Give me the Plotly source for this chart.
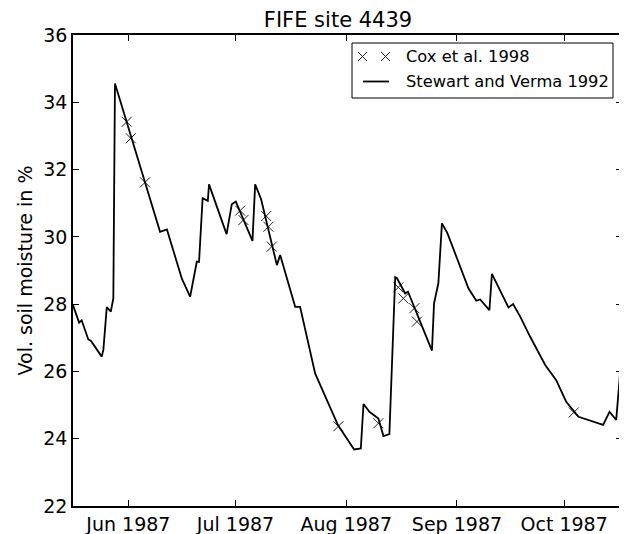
import pandas as pd
import plotly.graph_objects as go

# Stewart and Verma 1992 (continuous record)
line_dates = [
    "1987-05-16 12:00", "1987-05-18 05:00", "1987-05-18 22:00", "1987-05-20 19:00",
    "1987-05-21 12:00", "1987-05-24 13:00", "1987-05-25 00:00", "1987-05-25 23:00",
    "1987-05-27 02:00", "1987-05-27 19:00", "1987-05-28 06:00", "1987-06-09 21:00",
    "1987-06-11 19:00", "1987-06-16 00:00", "1987-06-18 07:00", "1987-06-20 04:00",
    "1987-06-20 19:00", "1987-06-21 19:00", "1987-06-23 06:00", "1987-06-23 14:00",
    "1987-06-28 12:00", "1987-06-29 23:00", "1987-07-01 02:00", "1987-07-05 18:00",
    "1987-07-06 12:00", "1987-07-08 04:00", "1987-07-12 14:00", "1987-07-13 12:00",
    "1987-07-17 17:00", "1987-07-19 02:00", "1987-07-23 07:00", "1987-07-29 17:00",
    "1987-08-03 05:00", "1987-08-05 02:00", "1987-08-05 20:00", "1987-08-07 12:00",
    "1987-08-10 00:00", "1987-08-11 10:00", "1987-08-13 02:00", "1987-08-14 17:00",
    "1987-08-15 05:00", "1987-08-17 12:00", "1987-08-18 07:00", "1987-08-25 00:00",
    "1987-08-25 14:00", "1987-08-26 19:00", "1987-08-27 19:00", "1987-08-29 07:00",
    "1987-09-04 05:00", "1987-09-06 10:00", "1987-09-07 12:00", "1987-09-10 02:00",
    "1987-09-10 19:00", "1987-09-15 10:00", "1987-09-16 17:00", "1987-09-18 17:00",
    "1987-09-21 12:00", "1987-09-25 17:00", "1987-09-28 19:00", "1987-10-01 14:00",
    "1987-10-05 01:00", "1987-10-11 22:00", "1987-10-13 17:00", "1987-10-15 14:00",
    "1987-10-16 17:00", "1987-10-17 05:00",
]
line_vals = [
    27.97, 27.45, 27.52, 26.95,
    26.91, 26.44, 26.64, 27.91,
    27.78, 28.17, 34.56, 30.15,
    30.22, 28.75, 28.22, 29.26,
    29.26, 31.15, 31.07, 31.56,
    30.08, 30.97, 31.05, 29.88,
    31.56, 31.12, 29.16, 29.46,
    27.92, 27.92, 25.94, 24.40,
    23.68, 23.71, 25.03, 24.80,
    24.60, 24.08, 24.14, 28.80,
    28.77, 28.32, 28.37, 26.62,
    28.02, 28.62, 30.40, 30.12,
    28.47, 28.10, 28.14, 27.82,
    28.90, 27.90, 28.00, 27.63,
    27.03, 26.19, 25.74, 25.10,
    24.65, 24.41, 24.80, 24.56,
    25.99, 26.30,
]

# Cox et al. 1998 (point samples)
cox_dates = [
    "1987-05-31 13:00", "1987-06-01 16:00", "1987-06-05 16:00",
    "1987-07-02 07:00", "1987-07-03 05:00", "1987-07-09 14:00",
    "1987-07-10 05:00", "1987-07-11 04:00", "1987-07-29 19:00",
    "1987-08-10 00:00", "1987-08-15 14:00", "1987-08-17 00:00",
    "1987-08-20 02:00", "1987-08-20 19:00", "1987-10-03 17:00",
]
cox_vals = [
    33.42, 32.93, 31.62,
    30.78, 30.50, 30.62,
    30.30, 29.71, 24.37,
    24.46, 28.50, 28.17,
    27.88, 27.48, 24.78,
]

x_range = ["1987-05-16 12:00", "1987-10-17 05:00"]
y_ticks = [22, 24, 26, 28, 30, 32, 34, 36]
legend_labels = ["Cox et al. 1998", "Stewart and Verma 1992"]

FONT = "DejaVu Sans"
# the page body has an 8px margin, so the figure is 8px smaller than the window
W, H = 619, 526
ML, MR, MT, MB = 65, 5, 27, 28
PW, PH = W - ML - MR, H - MT - MB


def px(x):
    # figure pixel (from plot left) -> paper x
    return x / PW


def py(y):
    # figure pixel (from plot top) -> paper y
    return 1 - y / PH


fig = go.Figure()
fig.add_trace(go.Scatter(
    x=pd.to_datetime(cox_dates), y=cox_vals,
    mode="markers", name=legend_labels[0], showlegend=False,
    marker=dict(symbol="x-thin-open", size=10, color="#222",
                line=dict(width=1, color="#222")),
))
fig.add_trace(go.Scatter(
    x=pd.to_datetime(line_dates), y=line_vals,
    mode="lines", name=legend_labels[1], showlegend=False,
    line=dict(color="black", width=1.8),
))

# matplotlib-style legend box: two crosses for the samples, a line for the record
shapes = [dict(type="rect", xref="paper", yref="paper",
               x0=px(279), x1=px(540), y0=py(63), y1=py(8),
               line=dict(color="black", width=1), fillcolor="white")]
row1, row2 = py(21.5), py(46.5)
for cx in (289.5, 312.5):
    for sgn in (1, -1):
        shapes.append(dict(type="line", xref="paper", yref="paper",
                           xsizemode="pixel", ysizemode="pixel",
                           xanchor=px(cx), yanchor=row1,
                           x0=-4.5, x1=4.5, y0=-4.5 * sgn, y1=4.5 * sgn,
                           line=dict(color="#222", width=1)))
shapes.append(dict(type="line", xref="paper", yref="paper",
                   x0=px(290), x1=px(316), y0=row2, y1=row2,
                   line=dict(color="black", width=1.8)))

annotations = [
    dict(text=t, xref="paper", yref="paper", x=px(331), y=yy,
         xanchor="left", yanchor="middle", showarrow=False,
         font=dict(family=FONT, size=16.3, color="black"))
    for t, yy in zip(legend_labels, (row1, row2))
]

axis_common = dict(
    showgrid=False, zeroline=False,
    showline=True, linecolor="black", linewidth=1.5,
    mirror="ticks", ticks="inside", ticklen=6, tickwidth=1, tickcolor="black",
    tickfont=dict(family=FONT, size=19, color="black"),
)

fig.update_layout(
    width=W, height=H,
    margin=dict(l=ML, r=MR, t=MT, b=MB, autoexpand=False),
    paper_bgcolor="white", plot_bgcolor="white",
    font=dict(family=FONT, color="black"),
    showlegend=False,
    shapes=shapes,
    annotations=annotations,
    title=dict(text="FIFE site 4439", x=px(265), xref="paper", xanchor="center",
               y=1 - 4 / H, yref="container", yanchor="top", pad=dict(t=0),
               font=dict(family=FONT, size=21, color="black")),
    xaxis=dict(axis_common, type="date", range=x_range,
               tick0="1987-06-01", dtick="M1", tickformat="%b %Y"),
    yaxis=dict(axis_common, range=[22, 36], tickvals=y_ticks,
               title=dict(text="Vol. soil moisture in %", standoff=6,
                          font=dict(family=FONT, size=19, color="black"))),
)

fig.write_html("out.html")
